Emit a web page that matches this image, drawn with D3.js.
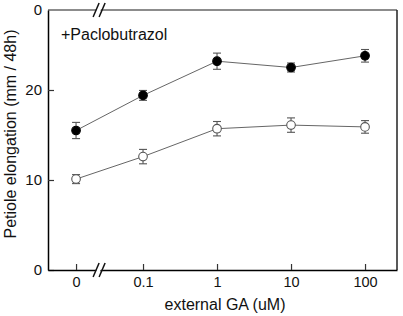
<!DOCTYPE html>
<html>
<head>
<meta charset="utf-8">
<script src="https://cdn.jsdelivr.net/npm/d3@7"></script>
<style>
  body { margin: 0; background: #fff; }
  svg { display: block; font-family: "Liberation Sans", Arial, sans-serif; }
</style>
</head>
<body>
<svg id="chart" width="403" height="316"></svg>
<script>
// GA doses (uM); 0 is placed left of the axis break
const doses = [0, 0.1, 1, 10, 100];
const doseLabels = ["0", "0.1", "1", "10", "100"];

// filled circles
const filledMean = [15.5, 19.4, 23.2, 22.5, 23.8];
const filledErr = [0.9, 0.55, 0.9, 0.5, 0.7];

// open circles
const openMean = [10.1, 12.6, 15.7, 16.1, 15.9];
const openErr = [0.5, 0.8, 0.8, 0.8, 0.7];

const yTicks = [0, 10, 20];

const svg = d3.select("#chart");
const mLeft = 48, mRight = 397, mTop = 10, mBottom = 270;

// x position in log10 units; zero sits a bit under a decade left of 0.1
const zeroPos = -1.905;
const breakPos = -1.58;
const pos = d => d === 0 ? zeroPos : Math.log10(d);
const x = d3.scaleLinear().domain([-2.284, 2.432]).range([mLeft, mRight]);
const yMax = (mBottom - mTop) / 9;
const y = d3.scaleLinear().domain([0, yMax]).range([mBottom, mTop]);

// frame: top (grey) and right
svg.append("line").attr("x1", mLeft).attr("x2", mRight).attr("y1", mTop).attr("y2", mTop)
    .attr("stroke", "#666").attr("stroke-width", 1.5);
svg.append("line").attr("x1", mRight).attr("x2", mRight).attr("y1", mTop).attr("y2", mBottom)
    .attr("stroke", "#222").attr("stroke-width", 1.5);

// y axis, ticks inside
const yAxis = svg.append("g")
    .attr("transform", `translate(${mLeft},0)`)
    .call(d3.axisLeft(y).tickValues(yTicks.concat([yMax])).tickSizeInner(-6).tickSizeOuter(0).tickPadding(6)
        .tickFormat(d => d === yMax ? "0" : d));
yAxis.select(".domain").attr("stroke", "#000").attr("stroke-width", 1.5);
yAxis.selectAll(".tick line").attr("stroke", "#333").attr("stroke-width", 1.2)
    .filter(d => d === yMax).remove();
yAxis.selectAll(".tick text").attr("font-size", 15).attr("fill", "#111")
    .attr("font-family", "Liberation Sans, Arial, sans-serif");

// x axis, ticks inside
const xAxis = svg.append("g")
    .attr("transform", `translate(0,${mBottom})`)
    .call(d3.axisBottom(x).tickValues(doses.map(pos)).tickSizeInner(-6).tickSizeOuter(0).tickPadding(7)
        .tickFormat((d, i) => doseLabels[i]));
xAxis.select(".domain").attr("stroke", "#000").attr("stroke-width", 1.5);
xAxis.selectAll(".tick line").attr("stroke", "#333").attr("stroke-width", 1.2);
xAxis.selectAll(".tick text").attr("font-size", 14.5).attr("fill", "#111")
    .attr("font-family", "Liberation Sans, Arial, sans-serif");

// axis breaks "//" on bottom axis and top frame
[mBottom, mTop].forEach(yy => {
    const bx = x(breakPos);
    const g = svg.append("g");
    g.append("polygon")
        .attr("points", `${bx - 6},${yy + 6} ${bx - 1},${yy - 6} ${bx + 3},${yy - 6} ${bx - 2},${yy + 6}`)
        .attr("fill", "#fff");
    [-4, 2].forEach(o => {
        g.append("line")
            .attr("x1", bx + o - 3).attr("y1", yy + 7)
            .attr("x2", bx + o + 3).attr("y2", yy - 7)
            .attr("stroke", "#111").attr("stroke-width", 1.5);
    });
});

function drawSeries(means, errs, fill, stroke) {
    const pts = doses.map((d, i) => ({ x: x(pos(d)), m: means[i], e: errs[i] }));
    svg.append("path")
        .datum(pts)
        .attr("fill", "none")
        .attr("stroke", "#666")
        .attr("stroke-width", 1)
        .attr("d", d3.line().x(p => p.x).y(p => y(p.m)));
    const eb = svg.append("g").attr("stroke", "#555").attr("stroke-width", 1.1);
    pts.forEach(p => {
        eb.append("line").attr("x1", p.x).attr("x2", p.x).attr("y1", y(p.m - p.e)).attr("y2", y(p.m + p.e));
        eb.append("line").attr("x1", p.x - 4).attr("x2", p.x + 4).attr("y1", y(p.m - p.e)).attr("y2", y(p.m - p.e));
        eb.append("line").attr("x1", p.x - 4).attr("x2", p.x + 4).attr("y1", y(p.m + p.e)).attr("y2", y(p.m + p.e));
    });
    svg.append("g").selectAll("circle")
        .data(pts)
        .join("circle")
        .attr("cx", p => p.x)
        .attr("cy", p => y(p.m))
        .attr("r", 4.3)
        .attr("fill", fill)
        .attr("stroke", stroke)
        .attr("stroke-width", 1.1);
}

drawSeries(openMean, openErr, "#fff", "#555");
drawSeries(filledMean, filledErr, "#000", "#000");

// labels
svg.append("text")
    .attr("x", 61).attr("y", 40)
    .attr("font-size", 16).attr("fill", "#111")
    .text("+Paclobutrazol");

svg.append("text")
    .attr("x", 225).attr("y", 310)
    .attr("text-anchor", "middle")
    .attr("font-size", 16).attr("fill", "#111")
    .text("external GA (uM)");

svg.append("text")
    .attr("transform", `translate(16,${(mTop + mBottom) / 2 - 6}) rotate(-90)`)
    .attr("text-anchor", "middle")
    .attr("font-size", 16).attr("fill", "#111")
    .text("Petiole elongation (mm / 48h)");
</script>
</body>
</html>
